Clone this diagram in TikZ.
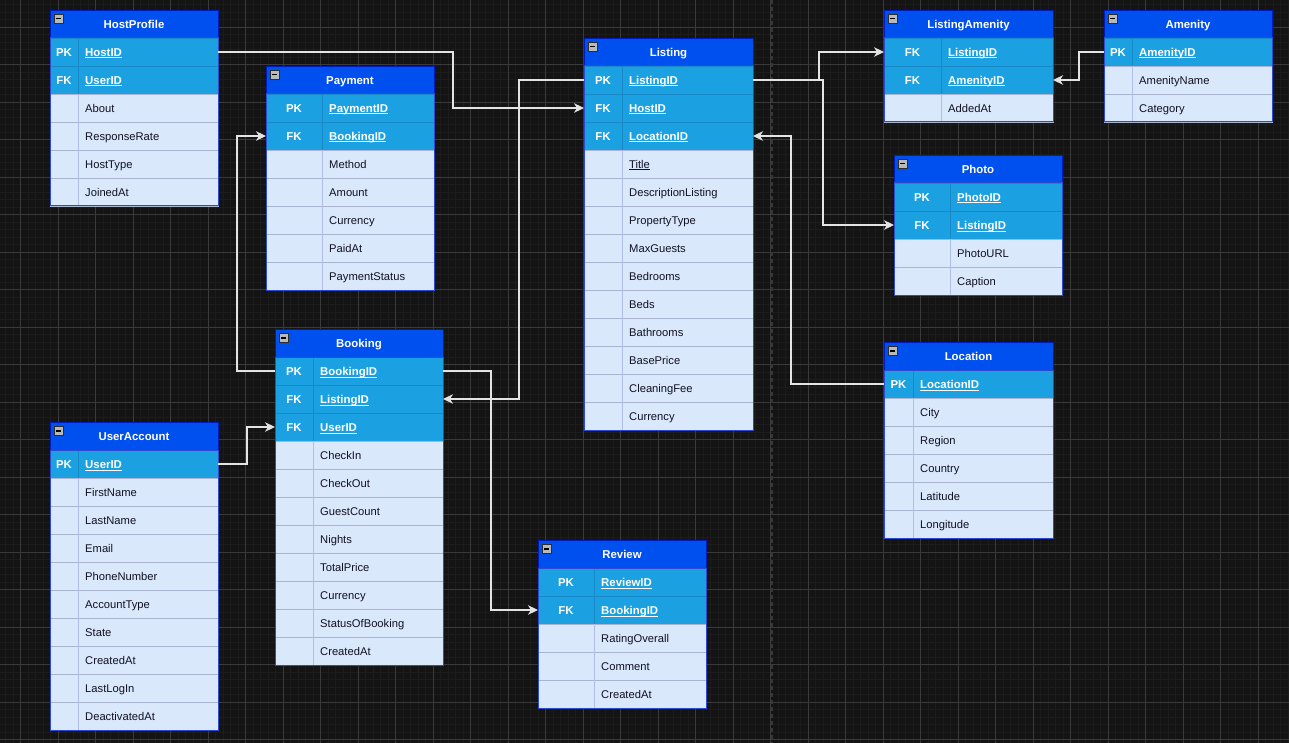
\documentclass[tikz,border=0pt]{standalone}
\usepackage{fontspec}
\setmainfont{Liberation Sans}
\usetikzlibrary{arrows.meta}

\definecolor{canvas}{HTML}{141414}
\definecolor{gridminor}{HTML}{1C1C1C}
\definecolor{gridmajor}{HTML}{3A3A3A}
\definecolor{pagebreak}{HTML}{363636}
\definecolor{hdrfill}{HTML}{0050EF}
\definecolor{hdrline}{HTML}{001DBC}
\definecolor{keyfill}{HTML}{1BA1E2}
\definecolor{keyline}{HTML}{1888C6}
\definecolor{attrfill}{HTML}{DAE8FC}
\definecolor{attrline}{HTML}{A9B5CF}
\definecolor{attrdiv}{HTML}{B3BDEB}
\definecolor{tabline}{HTML}{2D4AD0}
\definecolor{wire}{HTML}{E4E4E4}
\definecolor{attrink}{HTML}{111122}

\tikzset{
  rowbox/.style={rectangle, inner sep=0pt, outer sep=0pt, minimum height=28pt, anchor=north west},
  headbox/.style={rowbox, fill=hdrfill, draw=hdrline},
  keybox/.style={rowbox, fill=keyfill, draw=keyline},
  attrbox/.style={rowbox, fill=attrfill, draw=attrline},
  headtext/.style={inner sep=0pt, text=white, font=\fontsize{11.4}{13}\selectfont\bfseries},
  keytext/.style={inner sep=0pt, text=white, font=\fontsize{11.4}{13}\selectfont\bfseries},
  attrtext/.style={inner sep=0pt, text=attrink, font=\fontsize{11.2}{13}\selectfont},
  keysep/.style={draw=keyline, line width=0.8pt},
  attrsep/.style={draw=attrdiv, line width=0.8pt},
  outline/.style={draw=tabline, line width=1pt},
  conn/.style={draw=wire, line width=1.3pt, -{Stealth[length=10pt,width=9.5pt,inset=3pt]}},
}

% underline at a fixed depth below the baseline
\newcommand\fieldul[1]{\setbox0\hbox{#1}\rlap{\rule[-1.9pt]{\wd0}{0.9pt}}\box0}

% table header: id, left, top, width, key column width, title
\newcommand\erdhead[6]{%
  \gdef\erdX{#2}\gdef\erdY{#3}\gdef\erdW{#4}\gdef\erdK{#5}%
  \node[headbox, minimum width=#4pt] (#1-head) at (#2,#3) {};
  \node[headtext, anchor=base] at ({#2+#4/2},{#3+18.5}) {#6};
  \filldraw[fill=gray!55!white, draw=gray!35!black, line width=0.7pt]
    ({#2+4},{#3+4}) rectangle ++(9.5,9.5);
  \draw[black, line width=1.5pt] ({#2+6.2},{#3+8.75}) -- ++(5.1,0);
}
% key row: id, row, PK/FK, field
\newcommand\erdkey[4]{%
  \node[keybox, minimum width=\erdW pt] (#1-#4) at (\erdX,{\erdY+28*#2}) {};
  \draw[keysep] ({\erdX+\erdK},{\erdY+28*#2}) -- ++(0,28);
  \node[keytext, anchor=base] at ({\erdX+\erdK/2},{\erdY+28*#2+18.5}) {#3};
  \node[keytext, anchor=base west] at ({\erdX+\erdK+7},{\erdY+28*#2+18.5}) {\fieldul{#4}};
}
% plain row: id, row, field
\newcommand\erdattr[3]{%
  \node[attrbox, minimum width=\erdW pt] (#1-#3) at (\erdX,{\erdY+28*#2}) {};
  \draw[attrsep] ({\erdX+\erdK},{\erdY+28*#2}) -- ++(0,28);
  \node[attrtext, anchor=base west] at ({\erdX+\erdK+7},{\erdY+28*#2+18.5}) {#3};
}
% plain row with underlined field
\newcommand\erdattrul[3]{%
  \node[attrbox, minimum width=\erdW pt] (#1-#3) at (\erdX,{\erdY+28*#2}) {};
  \draw[attrsep] ({\erdX+\erdK},{\erdY+28*#2}) -- ++(0,28);
  \node[attrtext, anchor=base west] at ({\erdX+\erdK+7},{\erdY+28*#2+18.5}) {\fieldul{#3}};
}
% outline below the header: number of rows
\newcommand\erdclose[1]{%
  \draw[outline] (\erdX,{\erdY+28}) rectangle ++(\erdW,{28*#1});
}

\begin{document}
\begin{tikzpicture}[x=1pt, y=-1pt]
\useasboundingbox (0,0) rectangle (1289,743);
\fill[canvas] (0,0) rectangle (1289,743);

% grid
\foreach \i in {0,...,171} {\draw[gridminor, line width=0.8pt] ({5.7+7.5*\i},0) -- ({5.7+7.5*\i},743);}
\foreach \i in {0,...,99} {\draw[gridminor, line width=0.8pt] (0,{4.8+7.5*\i}) -- (1289,{4.8+7.5*\i});}
\foreach \i in {0,...,33} {\draw[gridmajor, line width=1pt] ({20.7+37.5*\i},0) -- ({20.7+37.5*\i},743);}
\foreach \i in {0,...,19} {\draw[gridmajor, line width=1pt] (0,{27.3+37.5*\i}) -- (1289,{27.3+37.5*\i});}
\draw[pagebreak, line width=1.6pt, dash pattern=on 4pt off 3pt] (772,0) -- (772,743);

% HostProfile
\erdhead{hp}{50}{10}{168}{28}{HostProfile}
\erdkey{hp}{1}{PK}{HostID}
\erdkey{hp}{2}{FK}{UserID}
\erdattr{hp}{3}{About}
\erdattr{hp}{4}{ResponseRate}
\erdattr{hp}{5}{HostType}
\erdattr{hp}{6}{JoinedAt}
\erdclose{6}

% Payment
\erdhead{pay}{266}{66}{168}{56}{Payment}
\erdkey{pay}{1}{PK}{PaymentID}
\erdkey{pay}{2}{FK}{BookingID}
\erdattr{pay}{3}{Method}
\erdattr{pay}{4}{Amount}
\erdattr{pay}{5}{Currency}
\erdattr{pay}{6}{PaidAt}
\erdattr{pay}{7}{PaymentStatus}
\erdclose{7}

% Listing
\erdhead{li}{584}{38}{169}{38}{Listing}
\erdkey{li}{1}{PK}{ListingID}
\erdkey{li}{2}{FK}{HostID}
\erdkey{li}{3}{FK}{LocationID}
\erdattrul{li}{4}{Title}
\erdattr{li}{5}{DescriptionListing}
\erdattr{li}{6}{PropertyType}
\erdattr{li}{7}{MaxGuests}
\erdattr{li}{8}{Bedrooms}
\erdattr{li}{9}{Beds}
\erdattr{li}{10}{Bathrooms}
\erdattr{li}{11}{BasePrice}
\erdattr{li}{12}{CleaningFee}
\erdattr{li}{13}{Currency}
\erdclose{13}

% ListingAmenity
\erdhead{la}{884}{10}{169}{57}{ListingAmenity}
\erdkey{la}{1}{FK}{ListingID}
\erdkey{la}{2}{FK}{AmenityID}
\erdattr{la}{3}{AddedAt}
\erdclose{3}

% Amenity
\erdhead{am}{1104}{10}{168}{28}{Amenity}
\erdkey{am}{1}{PK}{AmenityID}
\erdattr{am}{2}{AmenityName}
\erdattr{am}{3}{Category}
\erdclose{3}

% Photo
\erdhead{ph}{894}{155}{168}{56}{Photo}
\erdkey{ph}{1}{PK}{PhotoID}
\erdkey{ph}{2}{FK}{ListingID}
\erdattr{ph}{3}{PhotoURL}
\erdattr{ph}{4}{Caption}
\erdclose{4}

% Location
\erdhead{lo}{884}{342}{169}{29}{Location}
\erdkey{lo}{1}{PK}{LocationID}
\erdattr{lo}{2}{City}
\erdattr{lo}{3}{Region}
\erdattr{lo}{4}{Country}
\erdattr{lo}{5}{Latitude}
\erdattr{lo}{6}{Longitude}
\erdclose{6}

% Booking
\erdhead{bk}{275}{329}{168}{38}{Booking}
\erdkey{bk}{1}{PK}{BookingID}
\erdkey{bk}{2}{FK}{ListingID}
\erdkey{bk}{3}{FK}{UserID}
\erdattr{bk}{4}{CheckIn}
\erdattr{bk}{5}{CheckOut}
\erdattr{bk}{6}{GuestCount}
\erdattr{bk}{7}{Nights}
\erdattr{bk}{8}{TotalPrice}
\erdattr{bk}{9}{Currency}
\erdattr{bk}{10}{StatusOfBooking}
\erdattr{bk}{11}{CreatedAt}
\erdclose{11}

% UserAccount
\erdhead{ua}{50}{422}{168}{28}{UserAccount}
\erdkey{ua}{1}{PK}{UserID}
\erdattr{ua}{2}{FirstName}
\erdattr{ua}{3}{LastName}
\erdattr{ua}{4}{Email}
\erdattr{ua}{5}{PhoneNumber}
\erdattr{ua}{6}{AccountType}
\erdattr{ua}{7}{State}
\erdattr{ua}{8}{CreatedAt}
\erdattr{ua}{9}{LastLogIn}
\erdattr{ua}{10}{DeactivatedAt}
\erdclose{10}

% Review
\erdhead{rv}{538}{540}{168}{56}{Review}
\erdkey{rv}{1}{PK}{ReviewID}
\erdkey{rv}{2}{FK}{BookingID}
\erdattr{rv}{3}{RatingOverall}
\erdattr{rv}{4}{Comment}
\erdattr{rv}{5}{CreatedAt}
\erdclose{5}

% relationships
\draw[conn] (hp-HostID.east) -- ++(235,0) |- (li-HostID.west);
\draw[conn] (bk-BookingID.west) -- ++(-38,0) |- (pay-BookingID.west);
\draw[conn] (li-ListingID.west) -- ++(-65,0) |- (bk-ListingID.east);
\draw[conn] (bk-BookingID.east) -- ++(48,0) |- (rv-BookingID.west);
\draw[conn] (ua-UserID.east) -- ++(29,0) |- (bk-UserID.west);
\draw[conn] (li-ListingID.east) -- ++(66,0) |- (la-ListingID.west);
\draw[conn] (li-ListingID.east) -- ++(70,0) |- (ph-ListingID.west);
\draw[conn] (am-AmenityID.west) -- ++(-25,0) |- (la-AmenityID.east);
\draw[conn] (lo-LocationID.west) -- ++(-93,0) |- (li-LocationID.east);
\end{tikzpicture}
\end{document}
